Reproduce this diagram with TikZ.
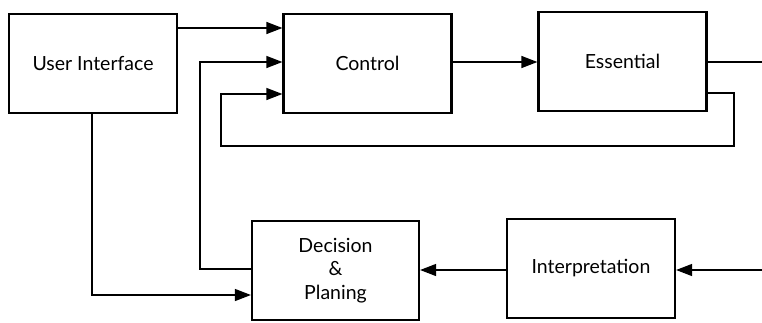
\documentclass[tikz,border=0pt]{standalone}
\usepackage{fontspec}
\setmainfont{Lato}
\usetikzlibrary{arrows.meta}
\begin{document}
\begin{tikzpicture}[x=1pt,y=-1pt,
  blk/.style={draw, line width=2.2pt, minimum width=168pt, minimum height=99pt, inner sep=0pt, font=\fontsize{19.5}{23.5}\selectfont, align=center},
  arr/.style={line width=1.3pt, -{Triangle[length=16pt,width=12pt]}},
  ln/.style={line width=1.3pt}]
\useasboundingbox (0,0) rectangle (762,322);
\node[blk] (ui) at (93,63.5) {User Interface};
\node[blk] (ctrl) at (367.5,63.5) {Control};
\node[blk] (ess) at (622.5,61.5) {Essential};
\node[blk, minimum width=167pt] (dec) at (335.5,270.5) {Decision\\\&\\Planing};
\node[blk] (intp) at (591,268.5) {Interpretation};
\coordinate (essout) at (762,62);
\coordinate (intin) at (762,270);
% UI -> Control
\draw[arr] (ui.east |- 0,28) -- (ctrl.west |- 0,28);
% Decision -> Control
\draw[arr] (dec.west |- 0,269) -| (200,62) -- (ctrl.west |- 0,62);
% Essential -> Control feedback
\draw[arr] (ess.east |- 0,93) -| (734,146) -| (221,94) -- (ctrl.west |- 0,94);
% Control -> Essential
\draw[arr] (ctrl.east |- 0,62) -- (ess.west |- 0,62);
% Essential out
\draw[ln] (ess.east |- essout) -- (essout);
% UI -> Decision
\draw[arr] (ui.south -| 92,0) |- (dec.west |- 0,295);
% Interpretation -> Decision
\draw[arr] (intp.west |- 0,270) -- (dec.east |- 0,270);
% in -> Interpretation
\draw[arr] (intin) -- (intp.east |- intin);
\end{tikzpicture}
\end{document}
